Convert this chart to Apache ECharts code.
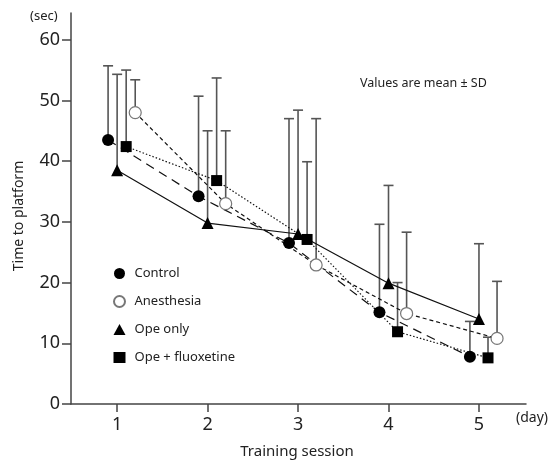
<!DOCTYPE html>
<html>
<head>
<meta charset="utf-8">
<script src="https://cdn.jsdelivr.net/npm/echarts@6/dist/echarts.min.js"></script>
<style>
  html, body { margin: 0; padding: 0; background: #fff; }
  #chart { width: 553px; height: 461px; }
</style>
</head>
<body>
<div id="chart"></div>
<script>
  // training days
  const days = [1, 2, 3, 4, 5];
  const yTicks = [0, 10, 20, 30, 40, 50, 60];

  // means (sec)
  const controlMean = [43.5, 34.2, 26.5, 15.1, 7.8];
  const anesthesiaMean = [48.0, 33.0, 22.9, 14.9, 10.8];
  const opeMean = [38.5, 29.8, 28.0, 19.9, 14.0];
  const fluoxMean = [42.4, 36.8, 27.1, 11.9, 7.6];

  // SD (upper bar only)
  const controlSD = [12.2, 16.5, 20.5, 14.5, 5.8];
  const anesthesiaSD = [5.4, 12.0, 24.1, 13.4, 9.4];
  const opeSD = [15.8, 15.2, 20.4, 16.1, 12.4];
  const fluoxSD = [12.6, 16.9, 12.8, 8.1, 3.4];

  const font = 'Noto Sans';

  // groups are shifted a bit left/right of each day so the bars don't overlap
  const groups = [
    { name: 'Control', mean: controlMean, sd: controlSD, shift: -0.1, symbol: 'circle', size: 12, dash: [9, 6], open: false },
    { name: 'Anesthesia', mean: anesthesiaMean, sd: anesthesiaSD, shift: 0.2, symbol: 'circle', size: 12, dash: [4, 3], open: true },
    { name: 'Ope only', mean: opeMean, sd: opeSD, shift: 0, symbol: 'triangle', size: 12, dash: 'solid', open: false },
    { name: 'Ope + fluoxetine', mean: fluoxMean, sd: fluoxSD, shift: 0.1, symbol: 'rect', size: 11, dash: [1.5, 2], open: false }
  ];

  function errorBar(params, api) {
    const p0 = api.coord([api.value(0), api.value(1)]);
    const p1 = api.coord([api.value(0), api.value(2)]);
    const st = { stroke: '#555', lineWidth: 1.6 };
    return {
      type: 'group',
      children: [
        { type: 'line', shape: { x1: p0[0], y1: p0[1], x2: p1[0], y2: p1[1] }, style: st },
        { type: 'line', shape: { x1: p1[0] - 5, y1: p1[1], x2: p1[0] + 5, y2: p1[1] }, style: st }
      ]
    };
  }

  const series = [];
  groups.forEach(function (g) {
    series.push({
      type: 'custom',
      name: g.name + ' SD',
      renderItem: errorBar,
      z: 1,
      silent: true,
      data: days.map(function (d, i) { return [d + g.shift, g.mean[i], g.mean[i] + g.sd[i]]; })
    });
  });
  groups.forEach(function (g) {
    series.push({
      type: 'line',
      name: g.name,
      z: 3,
      symbol: g.symbol,
      symbolSize: g.size,
      showAllSymbol: true,
      itemStyle: g.open
        ? { color: '#fff', borderColor: '#777', borderWidth: 1.2 }
        : { color: '#000', borderWidth: 0 },
      lineStyle: { color: '#111', width: 1.2, type: g.dash },
      data: days.map(function (d, i) { return [d + g.shift, g.mean[i]]; })
    });
  });

  const chart = echarts.init(document.getElementById('chart'));
  chart.setOption({
    animation: false,
    backgroundColor: '#fff',
    grid: { left: 71, right: 27, top: 13, bottom: 57, containLabel: false },
    legend: {
      orient: 'vertical',
      left: 108,
      top: 262,
      itemWidth: 12,
      itemHeight: 11,
      itemGap: 15,
      selectedMode: false,
      textStyle: { fontFamily: font, fontSize: 13, color: '#222', padding: [0, 0, 0, 4] },
      data: groups.map(function (g) { return { name: g.name, icon: g.symbol }; })
    },
    xAxis: {
      type: 'value',
      min: 0.49,
      max: 5.52,
      splitLine: { show: false },
      axisLine: { lineStyle: { color: '#444', width: 1.5 } },
      axisTick: { show: true, length: 8, customValues: days, lineStyle: { color: '#444', width: 1.5 } },
      axisLabel: { customValues: days, margin: 12, fontFamily: font, fontSize: 18, color: '#222' }
    },
    yAxis: {
      type: 'value',
      min: 0,
      max: 64.4,
      splitLine: { show: false },
      axisLine: { show: true, lineStyle: { color: '#444', width: 1.5 } },
      axisTick: { show: true, length: 9, customValues: yTicks, lineStyle: { color: '#444', width: 1.5 } },
      axisLabel: { customValues: yTicks, margin: 11, fontFamily: font, fontSize: 18, color: '#222' }
    },
    graphic: [
      { type: 'text', left: 30, top: 10, style: { text: '(sec)', fontFamily: font, fontSize: 13, fill: '#222' } },
      { type: 'text', left: 516, top: 411, style: { text: '(day)', fontFamily: font, fontSize: 14, fill: '#222' } },
      { type: 'text', left: 360, top: 77, style: { text: 'Values are mean \u00b1 SD', fontFamily: font, fontSize: 12.5, fill: '#222' } },
      { type: 'text', x: 297, y: 452, style: { text: 'Training session', fontFamily: font, fontSize: 15, fill: '#222', align: 'center', verticalAlign: 'middle' } },
      { type: 'text', x: 19, y: 216, rotation: Math.PI / 2, style: { text: 'Time to platform', fontFamily: font, fontSize: 14, fill: '#222', align: 'center', verticalAlign: 'middle' } }
    ],
    series: series
  });
</script>
</body>
</html>
